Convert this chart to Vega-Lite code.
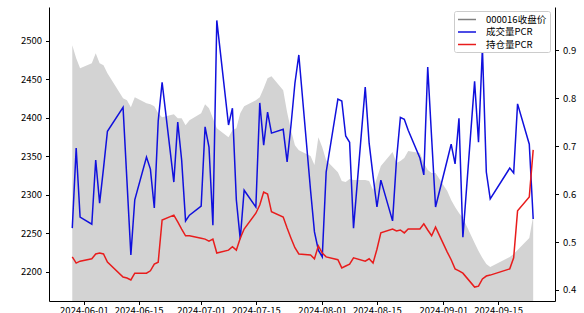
{
  "$schema": "https://vega.github.io/schema/vega-lite/v6.json",
  "width": 506,
  "height": 294,
  "autosize": {"type": "none"},
  "padding": {"left": 49, "top": 7, "right": 29, "bottom": 12},
  "background": "white",
  "config": {
    "view": {"stroke": null},
    "font": "Noto Sans CJK SC",
    "axis": {
      "grid": false,
      "domainColor": "#000000",
      "domainWidth": 1,
      "tickColor": "#000000",
      "tickWidth": 1,
      "tickSize": 3.5,
      "labelColor": "#000000",
      "labelFont": "Noto Sans CJK SC",
      "labelFontSize": 9.5,
      "title": null,
      "zindex": 1
    }
  },
  "data": {
    "values": [
      {"date": "2024-05-29", "close": 2494.4, "vol_pcr": 0.529, "oi_pcr": 0.469},
      {"date": "2024-05-30", "close": 2477.5, "vol_pcr": 0.696, "oi_pcr": 0.456},
      {"date": "2024-05-31", "close": 2464.5, "vol_pcr": 0.552, "oi_pcr": 0.460},
      {"date": "2024-06-03", "close": 2471.0, "vol_pcr": 0.537, "oi_pcr": 0.465},
      {"date": "2024-06-04", "close": 2484.0, "vol_pcr": 0.671, "oi_pcr": 0.475},
      {"date": "2024-06-05", "close": 2471.0, "vol_pcr": 0.581, "oi_pcr": 0.477},
      {"date": "2024-06-06", "close": 2468.4, "vol_pcr": 0.654, "oi_pcr": 0.475},
      {"date": "2024-06-07", "close": 2458.1, "vol_pcr": 0.731, "oi_pcr": 0.458},
      {"date": "2024-06-11", "close": 2425.6, "vol_pcr": 0.781, "oi_pcr": 0.427},
      {"date": "2024-06-12", "close": 2423.0, "vol_pcr": 0.627, "oi_pcr": 0.425},
      {"date": "2024-06-13", "close": 2413.9, "vol_pcr": 0.473, "oi_pcr": 0.421},
      {"date": "2024-06-14", "close": 2426.9, "vol_pcr": 0.588, "oi_pcr": 0.435},
      {"date": "2024-06-17", "close": 2419.1, "vol_pcr": 0.677, "oi_pcr": 0.435},
      {"date": "2024-06-18", "close": 2417.8, "vol_pcr": 0.652, "oi_pcr": 0.440},
      {"date": "2024-06-19", "close": 2415.2, "vol_pcr": 0.571, "oi_pcr": 0.454},
      {"date": "2024-06-20", "close": 2406.1, "vol_pcr": 0.752, "oi_pcr": 0.458},
      {"date": "2024-06-21", "close": 2400.9, "vol_pcr": 0.833, "oi_pcr": 0.546},
      {"date": "2024-06-24", "close": 2404.8, "vol_pcr": 0.625, "oi_pcr": 0.556},
      {"date": "2024-06-25", "close": 2399.6, "vol_pcr": 0.750, "oi_pcr": 0.542},
      {"date": "2024-06-26", "close": 2399.6, "vol_pcr": 0.671, "oi_pcr": 0.527},
      {"date": "2024-06-27", "close": 2390.5, "vol_pcr": 0.544, "oi_pcr": 0.513},
      {"date": "2024-06-28", "close": 2397.0, "vol_pcr": 0.556, "oi_pcr": 0.513},
      {"date": "2024-07-01", "close": 2406.1, "vol_pcr": 0.575, "oi_pcr": 0.508},
      {"date": "2024-07-02", "close": 2417.8, "vol_pcr": 0.740, "oi_pcr": 0.506},
      {"date": "2024-07-03", "close": 2412.6, "vol_pcr": 0.698, "oi_pcr": 0.502},
      {"date": "2024-07-04", "close": 2399.6, "vol_pcr": 0.535, "oi_pcr": 0.506},
      {"date": "2024-07-05", "close": 2386.6, "vol_pcr": 0.962, "oi_pcr": 0.477},
      {"date": "2024-07-08", "close": 2374.9, "vol_pcr": 0.744, "oi_pcr": 0.483},
      {"date": "2024-07-09", "close": 2384.0, "vol_pcr": 0.779, "oi_pcr": 0.490},
      {"date": "2024-07-10", "close": 2386.6, "vol_pcr": 0.588, "oi_pcr": 0.483},
      {"date": "2024-07-11", "close": 2406.1, "vol_pcr": 0.506, "oi_pcr": 0.508},
      {"date": "2024-07-12", "close": 2415.2, "vol_pcr": 0.608, "oi_pcr": 0.527},
      {"date": "2024-07-15", "close": 2423.0, "vol_pcr": 0.573, "oi_pcr": 0.560},
      {"date": "2024-07-16", "close": 2426.9, "vol_pcr": 0.790, "oi_pcr": 0.577},
      {"date": "2024-07-17", "close": 2438.6, "vol_pcr": 0.702, "oi_pcr": 0.604},
      {"date": "2024-07-18", "close": 2451.6, "vol_pcr": 0.771, "oi_pcr": 0.600},
      {"date": "2024-07-19", "close": 2454.2, "vol_pcr": 0.727, "oi_pcr": 0.563},
      {"date": "2024-07-22", "close": 2436.0, "vol_pcr": 0.735, "oi_pcr": 0.552},
      {"date": "2024-07-23", "close": 2407.4, "vol_pcr": 0.667, "oi_pcr": 0.529},
      {"date": "2024-07-24", "close": 2384.0, "vol_pcr": 0.744, "oi_pcr": 0.508},
      {"date": "2024-07-25", "close": 2364.5, "vol_pcr": 0.831, "oi_pcr": 0.488},
      {"date": "2024-07-26", "close": 2358.0, "vol_pcr": 0.890, "oi_pcr": 0.475},
      {"date": "2024-07-29", "close": 2350.3, "vol_pcr": 0.608, "oi_pcr": 0.473},
      {"date": "2024-07-30", "close": 2338.6, "vol_pcr": 0.521, "oi_pcr": 0.465},
      {"date": "2024-07-31", "close": 2374.9, "vol_pcr": 0.483, "oi_pcr": 0.492},
      {"date": "2024-08-01", "close": 2361.9, "vol_pcr": 0.469, "oi_pcr": 0.477},
      {"date": "2024-08-02", "close": 2345.0, "vol_pcr": 0.646, "oi_pcr": 0.469},
      {"date": "2024-08-05", "close": 2329.4, "vol_pcr": 0.798, "oi_pcr": 0.463},
      {"date": "2024-08-06", "close": 2317.8, "vol_pcr": 0.794, "oi_pcr": 0.446},
      {"date": "2024-08-07", "close": 2316.5, "vol_pcr": 0.721, "oi_pcr": 0.450},
      {"date": "2024-08-08", "close": 2320.4, "vol_pcr": 0.708, "oi_pcr": 0.454},
      {"date": "2024-08-09", "close": 2319.1, "vol_pcr": 0.529, "oi_pcr": 0.467},
      {"date": "2024-08-12", "close": 2319.1, "vol_pcr": 0.823, "oi_pcr": 0.460},
      {"date": "2024-08-13", "close": 2317.8, "vol_pcr": 0.706, "oi_pcr": 0.465},
      {"date": "2024-08-14", "close": 2306.1, "vol_pcr": 0.638, "oi_pcr": 0.456},
      {"date": "2024-08-15", "close": 2321.7, "vol_pcr": 0.573, "oi_pcr": 0.485},
      {"date": "2024-08-16", "close": 2337.3, "vol_pcr": 0.629, "oi_pcr": 0.519},
      {"date": "2024-08-19", "close": 2355.5, "vol_pcr": 0.544, "oi_pcr": 0.527},
      {"date": "2024-08-20", "close": 2341.2, "vol_pcr": 0.671, "oi_pcr": 0.523},
      {"date": "2024-08-21", "close": 2343.8, "vol_pcr": 0.760, "oi_pcr": 0.525},
      {"date": "2024-08-22", "close": 2347.7, "vol_pcr": 0.756, "oi_pcr": 0.519},
      {"date": "2024-08-23", "close": 2356.8, "vol_pcr": 0.733, "oi_pcr": 0.527},
      {"date": "2024-08-26", "close": 2354.2, "vol_pcr": 0.675, "oi_pcr": 0.527},
      {"date": "2024-08-27", "close": 2341.2, "vol_pcr": 0.640, "oi_pcr": 0.538},
      {"date": "2024-08-28", "close": 2332.1, "vol_pcr": 0.865, "oi_pcr": 0.525},
      {"date": "2024-08-29", "close": 2328.2, "vol_pcr": 0.717, "oi_pcr": 0.513},
      {"date": "2024-08-30", "close": 2328.2, "vol_pcr": 0.573, "oi_pcr": 0.531},
      {"date": "2024-09-02", "close": 2304.8, "vol_pcr": 0.671, "oi_pcr": 0.479},
      {"date": "2024-09-03", "close": 2293.1, "vol_pcr": 0.704, "oi_pcr": 0.463},
      {"date": "2024-09-04", "close": 2284.0, "vol_pcr": 0.663, "oi_pcr": 0.444},
      {"date": "2024-09-05", "close": 2276.2, "vol_pcr": 0.758, "oi_pcr": 0.440},
      {"date": "2024-09-06", "close": 2269.7, "vol_pcr": 0.510, "oi_pcr": 0.435},
      {"date": "2024-09-09", "close": 2237.3, "vol_pcr": 0.835, "oi_pcr": 0.406},
      {"date": "2024-09-10", "close": 2226.9, "vol_pcr": 0.708, "oi_pcr": 0.408},
      {"date": "2024-09-11", "close": 2217.8, "vol_pcr": 0.904, "oi_pcr": 0.423},
      {"date": "2024-09-12", "close": 2210.0, "vol_pcr": 0.646, "oi_pcr": 0.429},
      {"date": "2024-09-13", "close": 2206.1, "vol_pcr": 0.590, "oi_pcr": 0.431},
      {"date": "2024-09-18", "close": 2219.1, "vol_pcr": 0.654, "oi_pcr": 0.444},
      {"date": "2024-09-19", "close": 2223.0, "vol_pcr": 0.644, "oi_pcr": 0.467},
      {"date": "2024-09-20", "close": 2228.2, "vol_pcr": 0.788, "oi_pcr": 0.565},
      {"date": "2024-09-23", "close": 2243.8, "vol_pcr": 0.704, "oi_pcr": 0.594},
      {"date": "2024-09-24", "close": 2272.4, "vol_pcr": 0.548, "oi_pcr": 0.692}
    ]
  },
  "encoding": {
    "x": {
      "field": "date",
      "type": "temporal",
      "scale": {
        "type": "utc",
        "domain": [
          {"year": 2024, "month": 5, "date": 23, "hours": 1, "utc": true},
          {"year": 2024, "month": 9, "date": 29, "hours": 14, "utc": true}
        ],
        "nice": false
      },
      "axis": {
        "orient": "bottom",
        "labelExpr": "utcFormat(datum.value, '%Y-%m-%d')",
        "labelPadding": 1,
        "labelAngle": 0,
        "values": [
          {"year": 2024, "month": 6, "date": 1, "utc": true},
          {"year": 2024, "month": 6, "date": 15, "utc": true},
          {"year": 2024, "month": 7, "date": 1, "utc": true},
          {"year": 2024, "month": 7, "date": 15, "utc": true},
          {"year": 2024, "month": 8, "date": 1, "utc": true},
          {"year": 2024, "month": 8, "date": 15, "utc": true},
          {"year": 2024, "month": 9, "date": 1, "utc": true},
          {"year": 2024, "month": 9, "date": 15, "utc": true}
        ]
      }
    }
  },
  "layer": [
    {
      "mark": {"type": "area", "color": "#d3d3d3", "opacity": 1, "clip": true},
      "encoding": {
        "y": {
          "field": "close",
          "type": "quantitative",
          "scale": {"domain": [2161.9, 2544.2], "nice": false, "zero": false},
          "axis": {
            "orient": "left",
            "values": [2200, 2250, 2300, 2350, 2400, 2450, 2500],
            "format": "d",
            "labelPadding": 4,
            "title": null
          }
        }
      }
    },
    {
      "layer": [
        {
          "mark": {"type": "line", "strokeWidth": 1.5},
          "encoding": {
            "y": {
              "field": "vol_pcr",
              "type": "quantitative",
              "scale": {"domain": [0.377, 0.99], "nice": false, "zero": false},
              "axis": {
                "orient": "right",
                "values": [0.4, 0.5, 0.6, 0.7, 0.8, 0.9],
                "format": ".1f",
                "labelPadding": 4,
                "title": null
              }
            },
            "color": {
              "datum": "成交量PCR",
              "scale": {
                "domain": ["000016收盘价", "成交量PCR", "持仓量PCR"],
                "range": ["#808080", "#1010dd", "#e81c1c"]
              },
              "legend": {
                "title": null,
                "orient": "none",
                "legendX": 405,
                "legendY": 4,
                "symbolType": "M-1,0H3",
                "symbolSize": 81,
                "symbolStrokeWidth": 1.5,
                "labelFont": "Noto Sans CJK SC",
                "labelFontSize": 9.5,
                "labelColor": "#000000",
                "labelOffset": 18,
                "rowPadding": 2.5,
                "padding": 3,
                "strokeColor": "#cccccc",
                "fillColor": "#ffffff",
                "cornerRadius": 2,
                "zindex": 2
              }
            }
          }
        },
        {
          "mark": {"type": "line", "strokeWidth": 1.5},
          "encoding": {
            "y": {
              "field": "oi_pcr",
              "type": "quantitative",
              "scale": {"domain": [0.377, 0.99], "nice": false, "zero": false},
              "axis": {
                "orient": "right",
                "values": [0.4, 0.5, 0.6, 0.7, 0.8, 0.9],
                "format": ".1f",
                "labelPadding": 4,
                "title": null
              }
            },
            "color": {"datum": "持仓量PCR"}
          }
        }
      ]
    }
  ],
  "resolve": {"scale": {"y": "independent"}}
}
